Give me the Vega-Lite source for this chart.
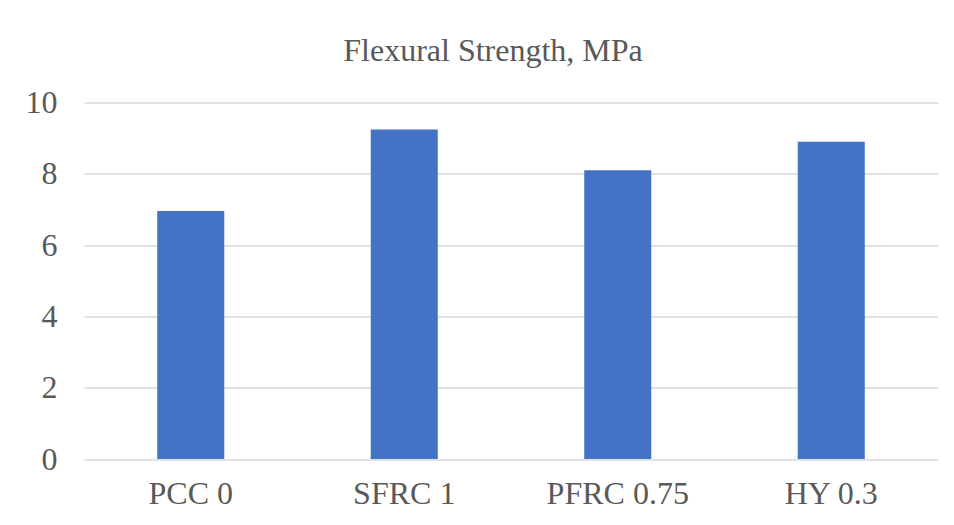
{
  "$schema": "https://vega.github.io/schema/vega-lite/v6.json",
  "autosize": {"type": "none"},
  "width": 854,
  "height": 356.5,
  "padding": {"left": 84, "top": 102.5, "right": 16, "bottom": 66},
  "background": "white",
  "title": {
    "text": "Flexural Strength, MPa",
    "font": "Liberation Serif",
    "fontSize": 32,
    "fontWeight": "normal",
    "color": "#595959",
    "anchor": "middle",
    "baseline": "alphabetic",
    "offset": -6,
    "dx": -18
  },
  "data": {
    "values": [
      {"mix": "PCC 0", "strength": 6.96},
      {"mix": "SFRC 1", "strength": 9.24},
      {"mix": "PFRC 0.75", "strength": 8.1},
      {"mix": "HY 0.3", "strength": 8.9}
    ]
  },
  "mark": {"type": "bar", "color": "#4472c4"},
  "encoding": {
    "x": {
      "field": "mix",
      "type": "nominal",
      "sort": null,
      "scale": {"paddingInner": 0.686, "paddingOuter": 0.343},
      "axis": {
        "title": null,
        "labelAngle": 0,
        "labelFont": "Liberation Serif",
        "labelFontSize": 32,
        "labelColor": "#595959",
        "labelPadding": 19,
        "ticks": false,
        "domain": false,
        "grid": false
      }
    },
    "y": {
      "field": "strength",
      "type": "quantitative",
      "scale": {"domain": [0, 10]},
      "axis": {
        "title": null,
        "values": [0, 2, 4, 6, 8, 10],
        "labelFont": "Liberation Serif",
        "labelFontSize": 32,
        "labelColor": "#595959",
        "labelPadding": 27,
        "ticks": false,
        "domain": false,
        "grid": true,
        "gridColor": "#d9d9d9",
        "gridWidth": 1.5,
        "gridOpacity": 1
      }
    }
  },
  "config": {"view": {"stroke": null}}
}
